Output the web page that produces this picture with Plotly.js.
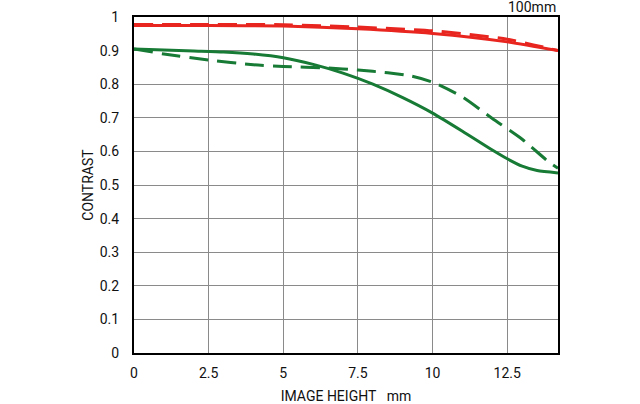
<!DOCTYPE html>
<html>
<head>
<meta charset="utf-8">
<script src="https://cdn.plot.ly/plotly-3.0.1.min.js"></script>
<style>
  html, body { margin: 0; padding: 0; background: #fff; }
  #chart { width: 640px; height: 404px; }
</style>
</head>
<body>
<div id="chart"></div>
<script>
// MTF 100mm - contrast vs image height

const redSolidX  = [0, 2.5, 5, 7.5, 10, 12.5, 14.2];
const redSolidY  = [0.975, 0.975, 0.973, 0.965, 0.951, 0.926, 0.900];
const redDashX   = [0, 2.5, 5, 7.5, 10, 12.5, 14.2];
const redDashY   = [0.978, 0.978, 0.977, 0.970, 0.959, 0.934, 0.900];

const greenSolidX = [0, 1, 2, 3, 4, 5, 6, 7, 8, 9, 10, 11, 12, 12.5, 13, 13.5, 14.2];
const greenSolidY = [0.905, 0.902, 0.899, 0.896, 0.890, 0.879, 0.859, 0.833, 0.800, 0.760, 0.714, 0.660, 0.604, 0.578, 0.556, 0.543, 0.536];
const greenDashX  = [0, 1, 2.5, 4, 5, 6.5, 7.5, 8.5, 9.3, 10, 11, 12, 13, 13.9, 14.2];
const greenDashY  = [0.905, 0.890, 0.872, 0.858, 0.853, 0.848, 0.842, 0.834, 0.824, 0.806, 0.762, 0.698, 0.636, 0.568, 0.550];

const xTicks = [0, 2.5, 5, 7.5, 10, 12.5];
const yTicks = [0, 0.1, 0.2, 0.3, 0.4, 0.5, 0.6, 0.7, 0.8, 0.9, 1];

const RED = '#e8251f';
const GREEN = '#177a35';
const FONT = 'Roboto, "Liberation Sans", sans-serif';

function curve(x, y, color, dash) {
  return {
    x, y, type: 'scatter', mode: 'lines',
    line: { color, width: 3, shape: 'spline', smoothing: 0.6, dash: dash ? '19px,9px' : 'solid' },
    hoverinfo: 'skip', showlegend: false,
  };
}

Plotly.newPlot('chart', [
  curve(greenDashX, greenDashY, GREEN, true),
  curve(greenSolidX, greenSolidY, GREEN, false),
  curve(redDashX, redDashY, RED, true),
  curve(redSolidX, redSolidY, RED, false),
], {
  width: 640, height: 404,
  paper_bgcolor: '#fff', plot_bgcolor: '#fff',
  font: { family: FONT, size: 14, color: '#111' },
  margin: { l: 134, r: 82, t: 17, b: 51 },
  showlegend: false,
  xaxis: {
    range: [0, 14.2], tickvals: xTicks, ticktext: xTicks.map(String),
    showgrid: true, gridcolor: '#8a8a8a', gridwidth: 1,
    showline: true, linecolor: '#000', linewidth: 2, mirror: true,
    zeroline: false, ticks: '', ticklabelstandoff: 6,
    tickfont: { size: 14, color: '#111' },
    title: { text: 'IMAGE HEIGHT&nbsp;&nbsp;&nbsp;mm', font: { size: 14, color: '#111' }, standoff: 12 },
  },
  yaxis: {
    range: [0, 1], tickvals: yTicks, ticktext: yTicks.map(String),
    showgrid: true, gridcolor: '#8a8a8a', gridwidth: 1,
    showline: true, linecolor: '#000', linewidth: 2, mirror: true,
    zeroline: false, ticks: '', ticklabelstandoff: 10,
    tickfont: { size: 14, color: '#111' },
    title: { text: 'CONTRAST', font: { size: 14, color: '#111' }, standoff: 3 },
  },
  annotations: [{
    text: '100mm', xref: 'paper', yref: 'paper', x: 1, y: 1,
    xanchor: 'right', yanchor: 'bottom', showarrow: false,
    font: { size: 14, color: '#111', family: FONT },
  }],
}, { displayModeBar: false, staticPlot: true });
</script>
</body>
</html>
